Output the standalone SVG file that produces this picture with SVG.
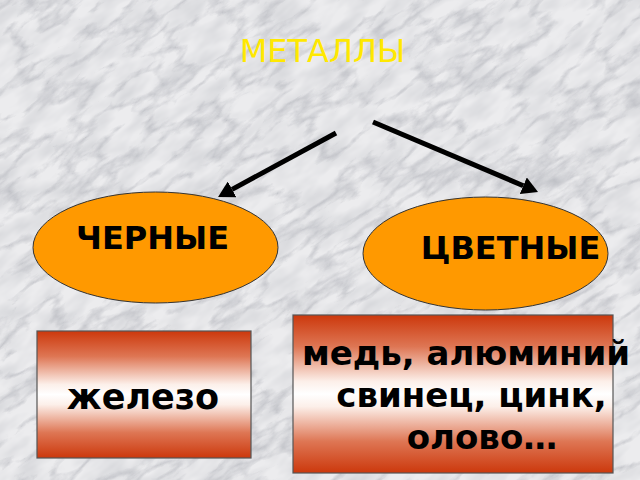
<svg xmlns="http://www.w3.org/2000/svg" width="640" height="480" viewBox="0 0 640 480">
  <defs>
    <filter id="veins" x="0" y="0" width="100%" height="100%" filterUnits="objectBoundingBox">
      <feTurbulence type="turbulence" baseFrequency="0.016 0.045" numOctaves="5" seed="7" result="t"/>
      <feColorMatrix in="t" type="matrix" values="0 0 0 0 0.42  0 0 0 0 0.43  0 0 0 0 0.47  -3.4 0 0 0 1.0"/>
    </filter>
    <filter id="mottle" x="0" y="0" width="100%" height="100%" filterUnits="objectBoundingBox">
      <feTurbulence type="fractalNoise" baseFrequency="0.025 0.06" numOctaves="3" seed="2" result="n"/>
      <feColorMatrix in="n" type="matrix" values="0 0 0 0 0.6  0 0 0 0 0.61  0 0 0 0 0.64  1.3 0 0 0 -0.45"/>
    </filter>
    <linearGradient id="boxGrad" x1="0" y1="0" x2="0" y2="1">
      <stop offset="0" stop-color="#cc380c"/>
      <stop offset="0.2" stop-color="#de7654"/>
      <stop offset="0.42" stop-color="#fcefe9"/>
      <stop offset="0.5" stop-color="#ffffff"/>
      <stop offset="0.58" stop-color="#fcefe9"/>
      <stop offset="0.8" stop-color="#de7654"/>
      <stop offset="1" stop-color="#cc380c"/>
    </linearGradient>
    <marker id="head" markerUnits="userSpaceOnUse" viewBox="0 -9 16 18" refX="0" refY="0" markerWidth="16" markerHeight="18" orient="auto">
      <path d="M0,-9 L16,0 L0,9 z" fill="#000"/>
    </marker>
    <style>
      .oval { fill: #ff9900; stroke: #333; stroke-width: 1; }
      .box { fill: url(#boxGrad); stroke: #555; stroke-width: 1.2; }
      .lbl { font-family: "DejaVu Sans", "Noto Sans", sans-serif; font-weight: bold; fill: #000; text-anchor: middle; }
      .conn { stroke: #000; stroke-width: 5; fill: none; marker-end: url(#head); }
    </style>
  </defs>

  <g id="background">
    <rect x="0" y="0" width="640" height="480" fill="#ececee"/>
    <g transform="rotate(-35 320 240)">
      <rect x="-200" y="-200" width="1040" height="880" filter="url(#mottle)"/>
      <rect x="-200" y="-200" width="1040" height="880" filter="url(#veins)" opacity="0.6"/>
    </g>
  </g>

  <g id="title">
    <text x="322.5" y="62" font-family="'DejaVu Sans', 'Noto Sans', sans-serif" font-size="32" fill="#ffe800" text-anchor="middle">МЕТАЛЛЫ</text>
  </g>

  <g id="connectors">
    <line class="conn" x1="336" y1="133" x2="232.1" y2="189.4"/>
    <line class="conn" x1="373" y1="122" x2="523.3" y2="185.7"/>
  </g>

  <g id="node-black">
    <ellipse class="oval" cx="155.5" cy="247.5" rx="122.5" ry="55.5"/>
    <text class="lbl" x="152.5" y="249" font-size="32">ЧЕРНЫЕ</text>
  </g>

  <g id="node-color">
    <ellipse class="oval" cx="485.5" cy="253.5" rx="122.5" ry="56.5"/>
    <text class="lbl" x="510.5" y="259" font-size="32">ЦВЕТНЫЕ</text>
  </g>

  <g id="node-iron">
    <rect class="box" x="37" y="331" width="214" height="127"/>
    <text class="lbl" x="143" y="409" font-size="35">железо</text>
  </g>

  <g id="node-nonferrous">
    <rect class="box" x="293" y="315" width="320" height="158"/>
    <text class="lbl" x="466" y="365" font-size="34">медь, алюминий</text>
    <text class="lbl" x="471.5" y="407" font-size="34">свинец, цинк,</text>
    <text class="lbl" x="482" y="449" font-size="34">олово…</text>
  </g>
</svg>
